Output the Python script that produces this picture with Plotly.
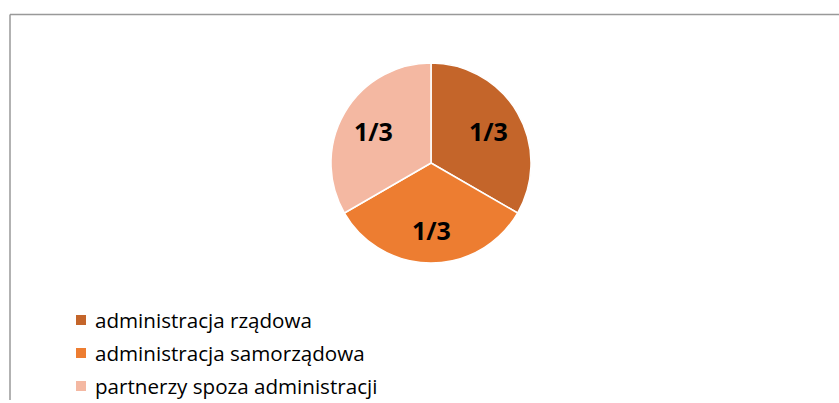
import math
import plotly.graph_objects as go

categories = ["administracja rządowa", "administracja samorządowa", "partnerzy spoza administracji"]
values = [1, 1, 1]
labels_text = ["1/3", "1/3", "1/3"]
colors = ["#C4652A", "#ED7D31", "#F4B8A2"]

W, H = 839, 403
CX, CY, R = 431, 163, 100  # pie centre / radius in pixels

fig = go.Figure()
fig.add_trace(go.Pie(
    labels=categories, values=values, text=labels_text,
    textinfo="none",
    marker=dict(colors=colors, line=dict(color="white", width=1.5)),
    sort=False, direction="clockwise", rotation=0,
    domain=dict(x=[(CX - R) / W, (CX + R) / W], y=[(H - CY - R) / H, (H - CY + R) / H]),
    showlegend=False, hoverinfo="label+percent",
))

shapes = [
    dict(type="line", xref="paper", yref="paper", x0=10 / W, x1=1, y0=1 - 14.5 / H, y1=1 - 14.5 / H,
         line=dict(color="#999999", width=1.5)),
    dict(type="line", xref="paper", yref="paper", x0=10 / W, x1=10 / W, y0=1 - 14.5 / H, y1=1 - 400 / H,
         line=dict(color="#999999", width=1.5)),
]
annotations = []

# slice labels at 0.66 R along each slice's mid-angle (clockwise from 12 o'clock)
total = sum(values)
cum = 0
for v, t in zip(values, labels_text):
    mid = (cum + v / 2) / total * 2 * math.pi
    cum += v
    px = CX + 0.66 * R * math.sin(mid)
    py = CY - 0.66 * R * math.cos(mid)
    annotations.append(dict(xref="paper", yref="paper", x=px / W, y=1 - (py + 1) / H,
                            xanchor="center", yanchor="middle", showarrow=False, text=t,
                            font=dict(family="Open Sans", size=25, color="black", weight="bold")))

for i, (cat, col) in enumerate(zip(categories, colors)):
    yc = 320 + 33 * i
    shapes.append(dict(type="rect", xref="paper", yref="paper",
                       x0=76 / W, x1=86 / W, y0=1 - (yc - 5) / H, y1=1 - (yc + 5) / H,
                       fillcolor=col, line=dict(width=0)))
    annotations.append(dict(xref="paper", yref="paper", x=93 / W, y=1 - yc / H,
                            xanchor="left", yanchor="middle", showarrow=False, text=cat,
                            font=dict(family="Open Sans", size=20.6, color="#000000")))

fig.update_layout(
    width=W, height=H, margin=dict(l=0, r=0, t=0, b=0),
    paper_bgcolor="white", plot_bgcolor="white",
    shapes=shapes, annotations=annotations,
)
fig.write_html("out.html", config={"displayModeBar": False},
               post_script="document.body.style.margin='0';document.body.style.overflow='hidden';")
